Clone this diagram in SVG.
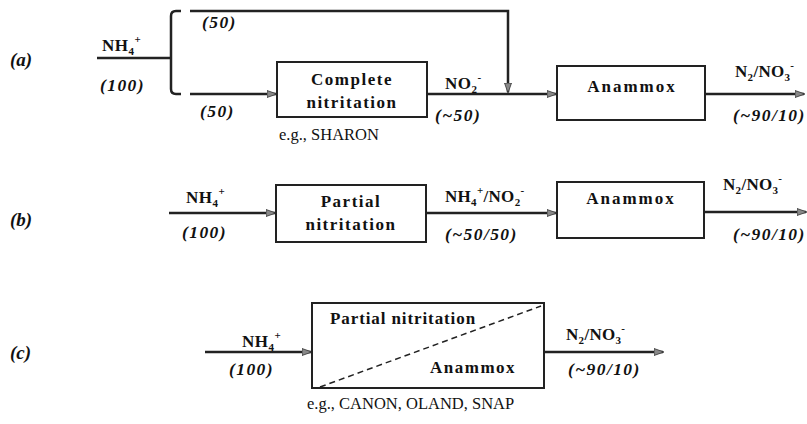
<svg xmlns="http://www.w3.org/2000/svg" width="807" height="424" viewBox="0 0 807 424">
<style>
text{font-family:'Liberation Serif','Times New Roman','DejaVu Serif',serif;fill:#111}
.b{font-weight:bold;font-size:17px;letter-spacing:1.5px}
.bi{font-weight:bold;font-style:italic;font-size:17.5px;letter-spacing:1.4px}
.lab{font-weight:bold;font-style:italic;font-size:19px}
.n{font-size:16.5px}
.sub{font-size:11px}
.box{fill:#fff;stroke:#222;stroke-width:2}
.ln{fill:none;stroke:#222;stroke-width:2.5}
</style>
<defs>
<marker id="ah" viewBox="0 0 10 8" refX="9" refY="4" markerWidth="11" markerHeight="8" markerUnits="userSpaceOnUse" orient="auto">
<path d="M0,0.5 L10,4 L0,7.5 Z" fill="#888" stroke="#333" stroke-width="0.8"/>
</marker>
</defs>

<g id="row-labels">
<text class="lab" x="10" y="66">(a)</text>
<text class="lab" x="10" y="226">(b)</text>
<text class="lab" x="10" y="359">(c)</text>
</g>

<g id="connectors">
<path class="ln" d="M97,58 L171,58"/>
<path class="ln" d="M181,11 L176,11 Q171,11 171,16 L171,89 Q171,94 176,94 L181,94"/>
<path class="ln" d="M190,11 L508,11 L508,92" marker-end="url(#ah)"/>
<path class="ln" d="M190,94 L276,94" marker-end="url(#ah)"/>
<path class="ln" d="M427,94 L556,94" marker-end="url(#ah)"/>
<path class="ln" d="M705,94 L804,94" marker-end="url(#ah)"/>
<path class="ln" d="M169,213 L275,213" marker-end="url(#ah)"/>
<path class="ln" d="M426,213 L556,213" marker-end="url(#ah)"/>
<path class="ln" d="M704,212 L806,212" marker-end="url(#ah)"/>
<path class="ln" d="M205,352 L311,352" marker-end="url(#ah)"/>
<path class="ln" d="M544,352 L663,352" marker-end="url(#ah)"/>
</g>

<g id="labels-a">
<text class="b" x="102" y="51" style="letter-spacing:0.5px">NH<tspan class="sub" dy="4">4</tspan><tspan class="sub" dy="-12">+</tspan></text>
<text class="bi" x="100" y="91">(100)</text>
<text class="bi" x="202" y="28">(50)</text>
<text class="bi" x="200" y="117">(50)</text>
<text class="b" x="445" y="89" style="letter-spacing:0.5px">NO<tspan class="sub" dy="4">2</tspan><tspan class="sub" dy="-12">-</tspan></text>
<text class="bi" x="435" y="121">(~50)</text>
<text class="b" x="735" y="77" style="letter-spacing:0.3px">N<tspan class="sub" dy="4">2</tspan><tspan dy="-4">/NO</tspan><tspan class="sub" dy="4">3</tspan><tspan class="sub" dy="-12">-</tspan></text>
<text class="bi" x="733" y="121">(~90/10)</text>
</g>

<g id="complete-nitritation">
<rect class="box" x="277" y="62" width="150" height="55"/>
<text class="b" x="352" y="85" text-anchor="middle">Complete</text>
<text class="b" x="352" y="108" text-anchor="middle">nitritation</text>
<text class="n" x="279" y="140">e.g., SHARON</text>
</g>

<g id="anammox-a">
<rect class="box" x="557" y="66" width="148" height="54"/>
<text class="b" x="632" y="92" text-anchor="middle" style="letter-spacing:2px">Anammox</text>
</g>

<g id="labels-b">
<text class="b" x="186" y="203" style="letter-spacing:0.5px">NH<tspan class="sub" dy="4">4</tspan><tspan class="sub" dy="-12">+</tspan></text>
<text class="bi" x="182" y="238">(100)</text>
<text class="b" x="445" y="202" style="letter-spacing:0.3px">NH<tspan class="sub" dy="4">4</tspan><tspan class="sub" dy="-12">+</tspan><tspan dy="8">/NO</tspan><tspan class="sub" dy="4">2</tspan><tspan class="sub" dy="-12">-</tspan></text>
<text class="bi" x="445" y="240">(~50/50)</text>
<text class="b" x="723" y="190" style="letter-spacing:0.3px">N<tspan class="sub" dy="4">2</tspan><tspan dy="-4">/NO</tspan><tspan class="sub" dy="4">3</tspan><tspan class="sub" dy="-12">-</tspan></text>
<text class="bi" x="733" y="240">(~90/10)</text>
</g>

<g id="partial-nitritation">
<rect class="box" x="276" y="185" width="150" height="57"/>
<text class="b" x="351" y="207" text-anchor="middle">Partial</text>
<text class="b" x="351" y="230" text-anchor="middle">nitritation</text>
</g>

<g id="anammox-b">
<rect class="box" x="557" y="182" width="147" height="56"/>
<text class="b" x="631" y="204" text-anchor="middle" style="letter-spacing:2px">Anammox</text>
</g>

<g id="labels-c">
<text class="b" x="242" y="347" style="letter-spacing:0.5px">NH<tspan class="sub" dy="4">4</tspan><tspan class="sub" dy="-12">+</tspan></text>
<text class="bi" x="229" y="375">(100)</text>
<text class="b" x="566" y="340" style="letter-spacing:0.3px">N<tspan class="sub" dy="4">2</tspan><tspan dy="-4">/NO</tspan><tspan class="sub" dy="4">3</tspan><tspan class="sub" dy="-12">-</tspan></text>
<text class="bi" x="568" y="375">(~90/10)</text>
</g>

<g id="combined">
<rect class="box" x="312" y="303" width="232" height="85"/>
<path d="M320,387 L541,306" fill="none" stroke="#222" stroke-width="1.5" stroke-dasharray="6,4"/>
<text class="b" x="330" y="324" style="letter-spacing:0.9px">Partial nitritation</text>
<text class="b" x="430" y="373" style="letter-spacing:1.5px">Anammox</text>
<text class="n" x="307" y="409">e.g., CANON, OLAND, SNAP</text>
</g>
</svg>
